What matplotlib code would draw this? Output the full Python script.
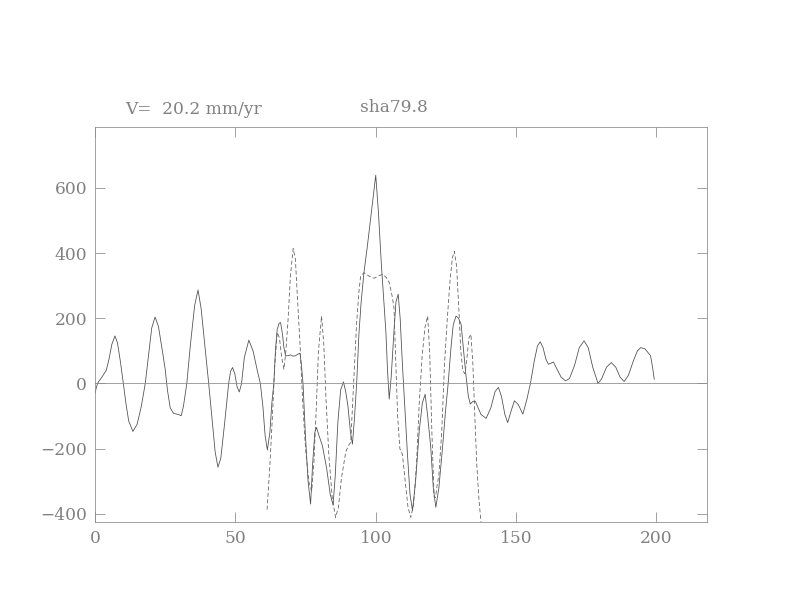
import numpy as np
import matplotlib.pyplot as plt

obs_x = [0, 0.6, 1.2, 2.5, 4.0, 5.0, 6.0, 7.1, 8.0, 9.0, 10.1, 11.0, 12.0, 13.5,
         15.0, 16.5, 17.9, 19.0, 20.2, 21.4, 22.6, 24.0, 25.0, 25.8, 26.8, 28.0,
         29.2, 30.0, 30.7, 31.5, 32.7, 34.0, 35.5, 36.7, 37.8, 39.2, 40.5, 41.8,
         42.8, 43.8, 44.8, 46.2, 47.6, 48.3, 49.0, 49.8, 50.6, 51.4, 52.2, 53.2,
         54.8, 56.3, 57.8, 58.9, 59.8, 60.6, 61.4, 62.3, 63.0, 63.7, 64.3, 64.9,
         65.6, 66.1, 66.8, 67.3, 67.9, 68.7, 69.6, 70.5, 71.4, 72.3, 73.0, 73.5,
         74.1, 74.9, 75.9, 76.8, 77.5, 78.3, 78.9, 79.8, 81.0, 82.5, 83.8, 84.8,
         85.6, 86.5, 87.5, 88.5, 89.3, 90.1, 91.0, 91.7, 92.4, 93.2, 94.0, 94.8,
         95.8, 97.0, 98.5, 100.0, 101.0, 102.0, 103.0, 103.6, 104.2, 104.8, 105.5,
         106.5, 107.2, 108.0, 108.7, 109.5, 110.4, 111.3, 112.2, 113.1, 114.2,
         115.5, 116.6, 117.6, 118.5, 119.6, 120.5, 121.4, 122.5, 123.8, 124.8,
         125.8, 126.8, 127.6, 128.6, 129.5, 130.4, 131.2, 132.1, 133.0, 133.7,
         134.6, 135.5, 136.5, 137.5, 139.3, 141.0, 142.5, 143.7, 144.8, 146.0,
         147.0, 148.2, 149.4, 150.8, 152.4, 153.8, 155.1, 156.5, 157.6, 158.6,
         159.6, 160.6, 161.5, 162.4, 163.3, 164.5, 166.0, 167.6, 169.0, 170.8,
         172.5, 174.2, 175.7, 177.3, 179.2, 180.5, 182.2, 183.9, 185.5, 187.0,
         188.5, 190.0, 191.8, 193.2, 194.4, 195.8, 196.5, 197.9, 198.6, 199.2]
obs_y = [-30, -8, 5, 20, 40, 75, 120, 146, 125, 70, 0, -60, -115, -147,
         -125, -70, 0, 80, 170, 204, 175, 100, 44, -20, -75, -92,
         -94, -96, -99, -70, 0, 120, 240, 287, 230, 110, 0, -120,
         -210, -257, -230, -120, 0, 38, 49, 30, -10, -26, 0, 80,
         133, 100, 40, 0, -70, -160, -204, -150, -60, 0, 105, 166,
         185, 187, 150, 110, 85, 85, 88, 84, 85, 90, 93, 60,
         0, -150, -300, -370, -250, -150, -135, -160, -191, -260, -340, -373,
         -280, -120, -20, 5, -25, -69, -150, -186, -110, 0, 150, 250,
         340, 420, 530, 639, 520, 366, 240, 161, 40, -48, 20,
         161, 250, 274, 200, 59, -80, -217, -340, -390, -300,
         -145, -60, -33, -100, -196, -320, -380, -320, -196, -90,
         0, 110, 180, 207, 200, 182, 110, 28, -40, -63,
         -55, -55, -75, -95, -107, -75, -25, -12, -40, -95,
         -120, -85, -53, -65, -94, -50, 0, 70, 115, 128,
         110, 75, 59, 62, 66, 45, 20, 8, 15, 55,
         110, 131, 110, 50, 0, 15, 50, 64, 50, 20,
         6, 25, 70, 100, 110, 107, 100, 85, 50, 13]

# dashed profile (model)
mod_x = [61.3, 62.3, 63.2, 64.0, 64.9, 65.7, 66.5, 67.3, 68.0, 68.8, 69.6, 70.6,
         71.4, 72.0, 73.0, 74.0, 75.0, 76.2, 77.2, 78.0, 78.8, 79.6, 80.7, 81.5,
         82.3, 83.3, 84.5, 85.7, 86.7, 87.8, 89.3, 90.3, 91.1, 92.0, 93.2, 94.0,
         94.6, 95.8, 97.5, 99.4, 101.0, 102.4, 103.8, 104.8, 105.8, 106.5, 107.2,
         107.8, 108.6, 109.5, 110.5, 111.5, 112.5, 113.5, 114.5, 115.5, 116.5,
         117.5, 118.5, 119.2, 120.0, 120.8, 121.3, 121.8, 122.5, 123.5, 124.5,
         125.5, 126.5, 127.3, 128.0, 128.8, 129.6, 130.3, 131.0, 131.8, 132.5,
         133.2, 133.9, 134.6, 135.3, 136.0, 136.8, 137.5]
mod_y = [-387, -250, -100, 50, 157, 140, 80, 44, 100, 200, 330, 414,
         380, 280, 126, -60, -200, -303, -330, -240, -80, 100, 207, 120,
         -50, -220, -350, -411, -380, -290, -211, -190, -181, -20, 187, 280,
         328, 340, 330, 323, 330, 335, 325, 310, 270, 233, 50,
         -100, -200, -217, -300, -380, -411, -370, -250, -60, 80,
         170, 207, 100, -150, -349, -350, -316, -280, -150, 60,
         200, 320, 385, 406, 360, 230, 100, 39, 30, 80,
         140, 151, 60, -100, -250, -360, -425]

title_left = 'V=  20.2 mm/yr'
title_right = 'sha79.8'

gray = '#8c8c8c'
text_gray = '#808080'
plt.rcParams['font.family'] = ['DejaVu Serif']

fig = plt.figure(figsize=(11, 8.5), dpi=72)
ax = fig.add_axes((95 / 792, 1 - 522 / 612, 612 / 792, 395 / 612))

ax.plot(obs_x, obs_y, color='#505050', lw=0.8)
ax.plot(mod_x, mod_y, color='#606060', lw=0.8, dashes=(5, 3))
ax.axhline(0, color=gray, lw=0.8)

ax.set_xlim(0, 218)
ax.set_ylim(-425, 787)
ax.set_xticks([0, 50, 100, 150, 200])
ax.set_yticks([-400, -200, 0, 200, 400, 600])
ax.set_yticklabels(['\u2212400', '\u2212200', '0', '200', '400', '600'])
ax.tick_params(direction='in', length=10, width=0.8, color=gray,
               labelcolor=text_gray, labelsize=17, top=True, right=True, pad=8)
for sp in ax.spines.values():
    sp.set_color(gray)
    sp.set_linewidth(0.8)

fig.text(125 / 792, 1 - 110 / 612, title_left, color=text_gray, fontsize=17, va='center')
fig.text(360 / 792, 1 - 108 / 612, title_right, color=text_gray, fontsize=17, va='center')

fig.savefig('out.png', dpi=72)
